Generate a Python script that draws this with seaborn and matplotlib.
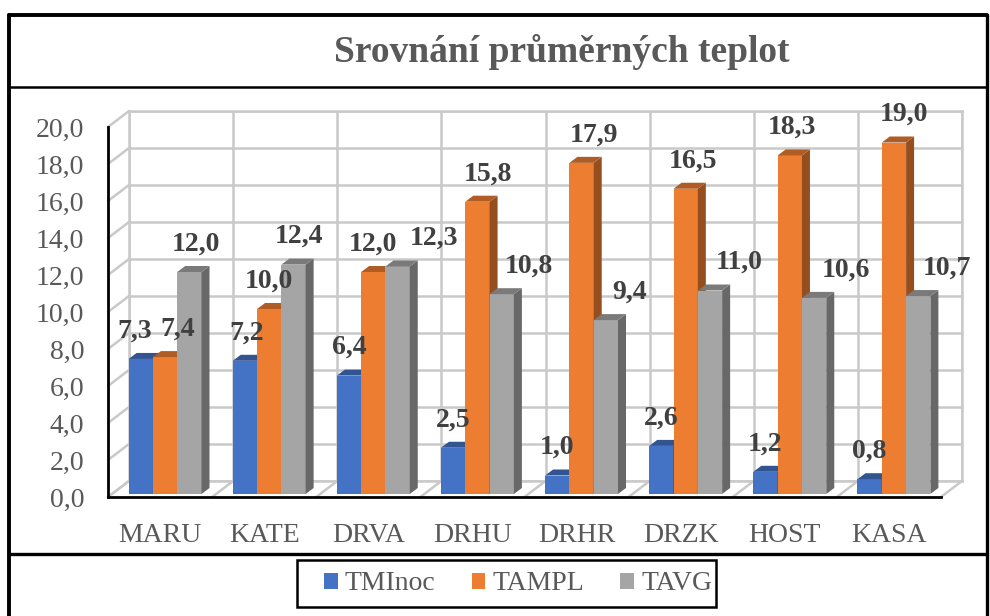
import matplotlib
matplotlib.use("Agg")
import matplotlib.pyplot as plt
from matplotlib.patches import Polygon, Patch, ConnectionPatch, Rectangle
from matplotlib.lines import Line2D
import numpy as np
import pandas as pd
import seaborn as sns

stations = ["MARU", "KATE", "DRVA", "DRHU", "DRHR", "DRZK", "HOST", "KASA"]
series = ["TMInoc", "TAMPL", "TAVG"]
tminoc = [7.3, 7.2, 6.4, 2.5, 1.0, 2.6, 1.2, 0.8]
tampl = [7.4, 10.0, 12.0, 15.8, 17.9, 16.5, 18.3, 19.0]
tavg = [12.0, 12.4, 12.3, 10.8, 9.4, 11.0, 10.6, 10.7]
y_ticks = [0, 2, 4, 6, 8, 10, 12, 14, 16, 18, 20]

colors = ["#4472C4", "#ED7D31", "#A5A5A5"]
# horizontal nudge (px) of each value label, as Excel placed them
label_dx = [
    [-6, 2, 0, 0, 0, 0, 0, 0],
    [13, 0, 0, 11, 12, 7, 2, 10],
    [7, 6, 36, 27, 24, 29, 32, 29],
]

df = pd.DataFrame({
    "station": stations * 3,
    "series": [s for s in series for _ in stations],
    "value": tminoc + tampl + tavg,
})

sns.set_theme(style="white")
plt.rcParams["font.family"] = ["Liberation Serif", "DejaVu Serif"]

W, H = 990, 616
fig = plt.figure(figsize=(W / 100, H / 100), dpi=100)
fig.patch.set_facecolor("white")


def box(x0, ytop, w, h):
    return [x0 / W, (H - ytop - h) / H, w / W, h / H]


# back wall (grid), bar plane and front plane (axis lines, labels)
ax_back = fig.add_axes(box(129, 111, 833, 370))
ax_bar = fig.add_axes(box(113, 124, 833, 370))
ax = fig.add_axes(box(108, 127, 833, 370))
for a in (ax_back, ax_bar, ax):
    a.set_xlim(-0.5, len(stations) - 0.5)
    a.set_ylim(0, 20)
    a.patch.set_alpha(0)
ax_back.set_zorder(0)
ax_bar.set_zorder(1)
ax.set_zorder(2)

grid_c = "#C9C9C9"
ax_back.set_yticks(y_ticks)
ax_back.set_xticks(np.arange(len(stations) + 1) - 0.5)
ax_back.grid(True, color=grid_c, lw=1.8)
ax_back.tick_params(length=0, labelleft=False, labelbottom=False)
for s in ax_back.spines.values():
    s.set_color(grid_c)
    s.set_linewidth(1.8)

# side wall and floor lines joining front plane to back wall
for v in y_ticks:
    con = ConnectionPatch(xyA=(-0.5, v), coordsA=ax.transData,
                          xyB=(-0.5, v), coordsB=ax_back.transData,
                          color=grid_c, lw=1.8)
    ax_back.add_artist(con)
for k in range(len(stations) + 1):
    con = ConnectionPatch(xyA=(k - 0.5, 0), coordsA=ax.transData,
                          xyB=(k - 0.5, 0), coordsB=ax_back.transData,
                          color=grid_c, lw=1.8)
    ax_back.add_artist(con)

sns.barplot(data=df, x="station", y="value", hue="series", palette=colors,
            width=0.7, saturation=1, legend=False, ax=ax_bar)
ax_bar.set_xlim(-0.5, len(stations) - 0.5)
ax_bar.set_ylim(0, 20)
ax_bar.axis("off")

# pseudo 3D faces
fig.canvas.draw()
t = ax_bar.transData
inv = t.inverted()
ddx, ddy = 8, 6
bars = sorted(ax_bar.patches, key=lambda p: p.get_x())
shade = {}
for c in colors:
    rgb = np.array(matplotlib.colors.to_rgb(c))
    shade[c] = (rgb * 0.74, rgb * 0.63)

for i, p in enumerate(bars):
    x0, x1 = p.get_x(), p.get_x() + p.get_width()
    h = p.get_height()
    fc = matplotlib.colors.to_hex(p.get_facecolor())
    base = [c for c in colors if c.lower() == fc.lower()][0]
    top_c, side_c = shade[base]
    (X0, Y0), (X1, Y1) = t.transform([(x0, 0), (x1, h)])
    top = inv.transform([(X0, Y1), (X1, Y1), (X1 + ddx, Y1 + ddy), (X0 + ddx, Y1 + ddy)])
    side = inv.transform([(X1, Y0), (X1, Y1), (X1 + ddx, Y1 + ddy), (X1 + ddx, Y0 + ddy)])
    p.set_zorder(10 + 3 * i)
    p.set_edgecolor("none")
    ax_bar.add_patch(Polygon(side, closed=True, fc=side_c, ec="none", zorder=11 + 3 * i, clip_on=False))
    ax_bar.add_patch(Polygon(top, closed=True, fc=top_c, ec="none", zorder=12 + 3 * i, clip_on=False))

# value labels
for si, vals in enumerate([tminoc, tampl, tavg]):
    for ci, v in enumerate(vals):
        xc = ci + (si - 1) * 0.7 / 3
        ax_bar.annotate(f"{v:.1f}".replace(".", ","), xy=(xc, v),
                        xytext=(label_dx[si][ci], 28), textcoords="offset pixels",
                        ha="center", va="center", fontsize=20, fontweight="bold",
                        color="#404040", zorder=100, annotation_clip=False)

# front plane axis
ax.set_yticks(y_ticks)
ax.set_yticklabels([f"{v:.1f}".replace(".", ",") for v in y_ticks])
ax.set_xticks(range(len(stations)))
ax.set_xticklabels(stations)
ax.tick_params(length=0, labelsize=20, labelcolor="#595959")
ax.tick_params(axis="y", pad=17)
ax.tick_params(axis="x", pad=19)
for side_name in ("top", "right"):
    ax.spines[side_name].set_visible(False)
for side_name in ("left", "bottom"):
    ax.spines[side_name].set_color("black")
    ax.spines[side_name].set_linewidth(2)
ax.grid(False)

# title
fig.text(562 / W, 1 - 52 / H, "Srovnání průměrných teplot", ha="center", va="center",
         fontsize=27, fontweight="bold", color="#595959")

# legend
handles = [Patch(facecolor=c, edgecolor="none", label=s) for c, s in zip(colors, series)]
leg = fig.legend(handles=handles, loc="center left", bbox_to_anchor=(324 / W, 1 - 584 / H),
                 ncol=3, frameon=False, fontsize=20, borderpad=0, borderaxespad=0,
                 handlelength=0.5, handleheight=0.5, handletextpad=0.25,
                 columnspacing=1.3, labelcolor="#595959")
fig.add_artist(Rectangle((297 / W, 1 - 607 / H), 419 / W, 47 / H, transform=fig.transFigure,
                         fill=False, ec="black", lw=1.8))

# chart frame
frame = [
    ([9, 987], [15, 15], 2.8),
    ([9, 9], [15, 620], 2.8),
    ([987, 987], [15, 620], 2.4),
    ([9, 987], [87, 87], 1.8),
    ([9, 987], [554, 554], 2.4),
]
for xs, ys, lw in frame:
    fig.add_artist(Line2D([x / W for x in xs], [1 - y / H for y in ys],
                          transform=fig.transFigure, color="black", lw=lw))

fig.savefig("out.png", dpi=100, facecolor="white")
